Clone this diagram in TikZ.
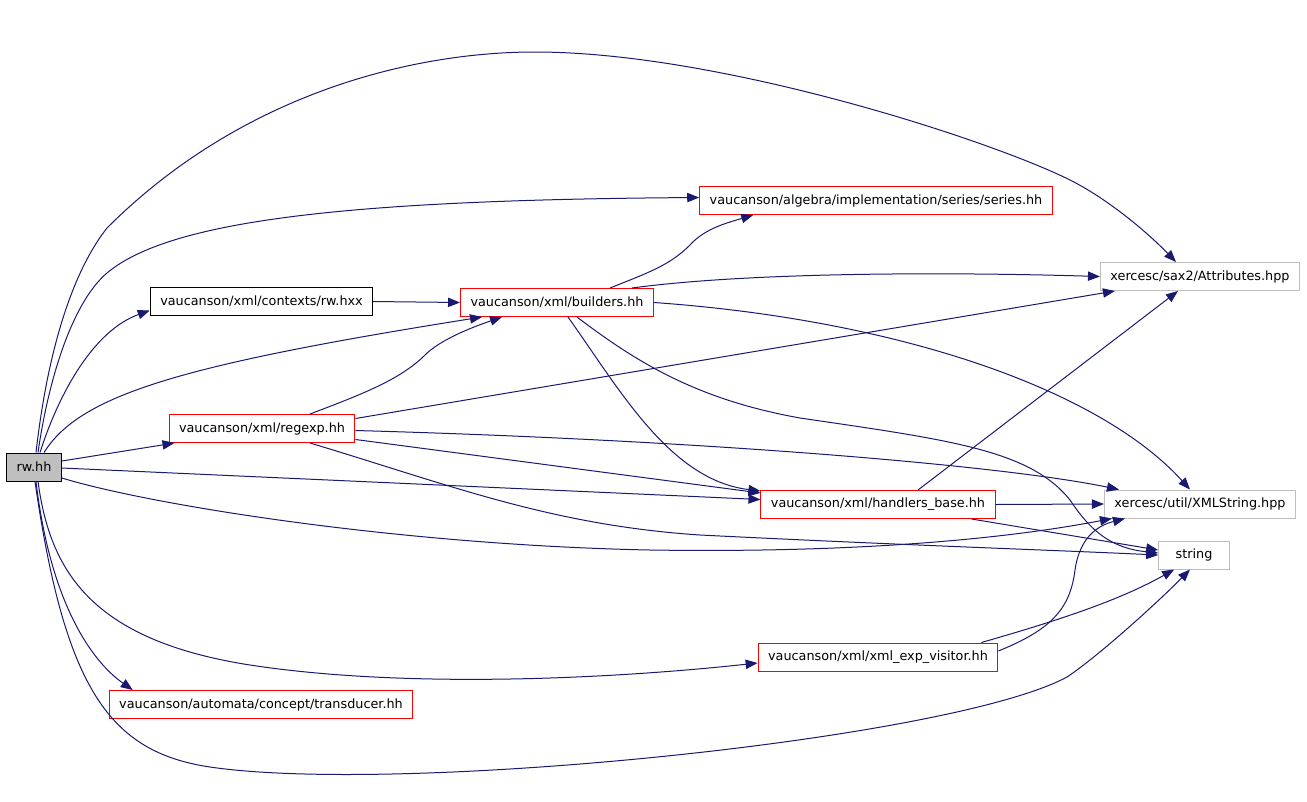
\documentclass[tikz,border=0pt]{standalone}
\usepackage{fontspec}
\setmainfont{DejaVu Sans}
\usetikzlibrary{arrows.meta,calc}
\definecolor{azula aresta}{HTML}{191970}
\definecolor{cinzaborda}{HTML}{BFBFBF}

\begin{document}
\begin{tikzpicture}[x=0.75pt,y=-0.75pt,
		caixa/.style={rectangle, minimum height=21pt, inner xsep=7.5pt, inner ysep=0pt, line width=0.75pt, font=\fontsize{9.6}{12}\selectfont},
		arquivo/.style={caixa, draw=red},
		externo/.style={caixa, draw=cinzaborda},
		dep/.style={draw=azula aresta, line width=0.75pt, -{Triangle[length=9pt,width=7pt]}}]
		\useasboundingbox (0,0) rectangle (1307,801);
		
		% Arquivos
		\node[caixa, draw=black, fill=cinzaborda] (rw) at (34,467) {rw.hh};
		\node[caixa, draw=black] (rwhxx) at (261.5,301.5) {vaucanson/xml/contexts/rw.hxx};
		\node[arquivo] (regexp) at (262,428.5) {vaucanson/xml/regexp.hh};
		\node[arquivo] (builders) at (557,302.5) {vaucanson/xml/builders.hh};
		\node[arquivo] (series) at (876,200.5) {vaucanson/algebra/implementation/series/series.hh};
		\node[arquivo] (handlers) at (878,504.5) {vaucanson/xml/handlers\_base.hh};
		\node[arquivo] (xmlexp) at (878,657) {vaucanson/xml/xml\_exp\_visitor.hh};
		\node[arquivo] (trans) at (261,704.5) {vaucanson/automata/concept/transducer.hh};
		\node[externo] (attrs) at (1200,276.5) {xercesc/sax2/Attributes.hpp};
		\node[externo] (xmlstr) at (1200,504) {xercesc/util/XMLString.hpp};
		\node[externo, minimum width=53pt] (string) at (1194,555) {string};
		
		% Arestas de rw.hh
		\draw[dep] ($(rw.north)+(2,0)$) .. controls (50,330) and (80,262) .. (107,228)
			.. controls (240,95) and (410,52) .. (535,52)
			.. controls (720,52) and (990,140) .. (1070,180)
			.. controls (1110,200) and (1150,235) .. ($(attrs.north)+(-24,0)$);
		\draw[dep] ($(rw.north)+(4,0)$) .. controls (50,370) and (75,300) .. (107,273)
			.. controls (170,220) and (350,200) .. ($(series.west)+(0,-3)$);
		\draw[dep] ($(rw.north)+(6,0)$) .. controls (60,390) and (95,330) .. ($(rwhxx.west)+(0,9)$);
		\draw[dep] ($(rw.north)+(10,0)$) .. controls (80,395) and (180,365) .. ($(builders.south west)+(22,0)$);
		\draw[dep] ($(rw.east)+(0,-6)$) -- ($(regexp.south west)+(6,0)$);
		\draw[dep] ($(rw.east)+(0,1)$) -- ($(handlers.west)+(0,-5)$);
		\draw[dep] ($(rw.east)+(0,11)$) .. controls (150,505) and (400,545) .. (650,550)
			.. controls (850,553) and (1000,540) .. ($(xmlstr.south west)+(8,0)$);
		\draw[dep] ($(rw.south)+(4,0)$) .. controls (50,570) and (90,640) .. (250,665)
			.. controls (400,688) and (600,680) .. ($(xmlexp.west)+(0,6)$);
		\draw[dep] ($(rw.south)+(2,0)$) .. controls (50,600) and (90,660) .. ($(trans.north west)+(24,0)$);
		\draw[dep] ($(rw.south)+(1,0)$) .. controls (65,690) and (110,752) .. (210,767)
			.. controls (400,795) and (950,740) .. (1067,677)
			.. controls (1100,655) and (1160,600) .. ($(string.south)+(-4,0)$);
		
		% Arestas dos outros arquivos
		\draw[dep] (rwhxx.east) -- (builders.west);
		\draw[dep] ($(builders.north)+(53,0)$) .. controls (650,272) and (670,265) .. (690,245)
			.. controls (705,228) and (730,222) .. ($(series.south west)+(54,0)$);
		\draw[dep] ($(builders.north east)+(-22,0)$) .. controls (750,272) and (950,272) .. (attrs.west);
		\draw[dep] (builders.east) .. controls (900,320) and (1100,390) .. ($(xmlstr.north)+(-10,0)$);
		\draw[dep] ($(builders.south)+(11,0)$) .. controls (620,390) and (670,480) .. ($(handlers.north west)+(0,1)$);
		\draw[dep] ($(builders.south)+(20,0)$) .. controls (640,365) and (700,400) .. (800,418)
			.. controls (950,440) and (1030,450) .. (1070,500)
			.. controls (1090,530) and (1110,548) .. ($(string.west)+(0,-2)$);
		\draw[dep] ($(regexp.north)+(48,0)$) .. controls (360,395) and (400,380) .. (425,355)
			.. controls (440,340) and (470,328) .. ($(builders.south west)+(42,0)$);
		\draw[dep] ($(regexp.east)+(0,-10)$) -- ($(attrs.south west)+(15,0)$);
		\draw[dep] ($(regexp.east)+(0,2)$) .. controls (700,440) and (1000,465) .. ($(xmlstr.north west)+(15,0)$);
		\draw[dep] ($(regexp.east)+(0,11)$) -- ($(handlers.north west)+(0,3)$);
		\draw[dep] ($(regexp.south)+(48,0)$) .. controls (450,485) and (550,525) .. (700,535)
			.. controls (900,545) and (1050,550) .. (string.west);
		\draw[dep] ($(handlers.north)+(40,0)$) -- ($(attrs.south)+(-22,0)$);
		\draw[dep] (handlers.east) -- (xmlstr.west);
		\draw[dep] ($(handlers.south east)+(-24,0)$) -- ($(string.west)+(0,-5)$);
		\draw[dep] ($(xmlexp.east)+(0,-6)$) .. controls (1050,630) and (1070,610) .. (1075,570)
			.. controls (1080,535) and (1100,525) .. ($(xmlstr.south west)+(21,0)$);
		\draw[dep] ($(xmlexp.north east)+(-17,0)$) .. controls (1060,620) and (1120,600) .. ($(string.south west)+(16,0)$);
	\end{tikzpicture}
\end{document}
